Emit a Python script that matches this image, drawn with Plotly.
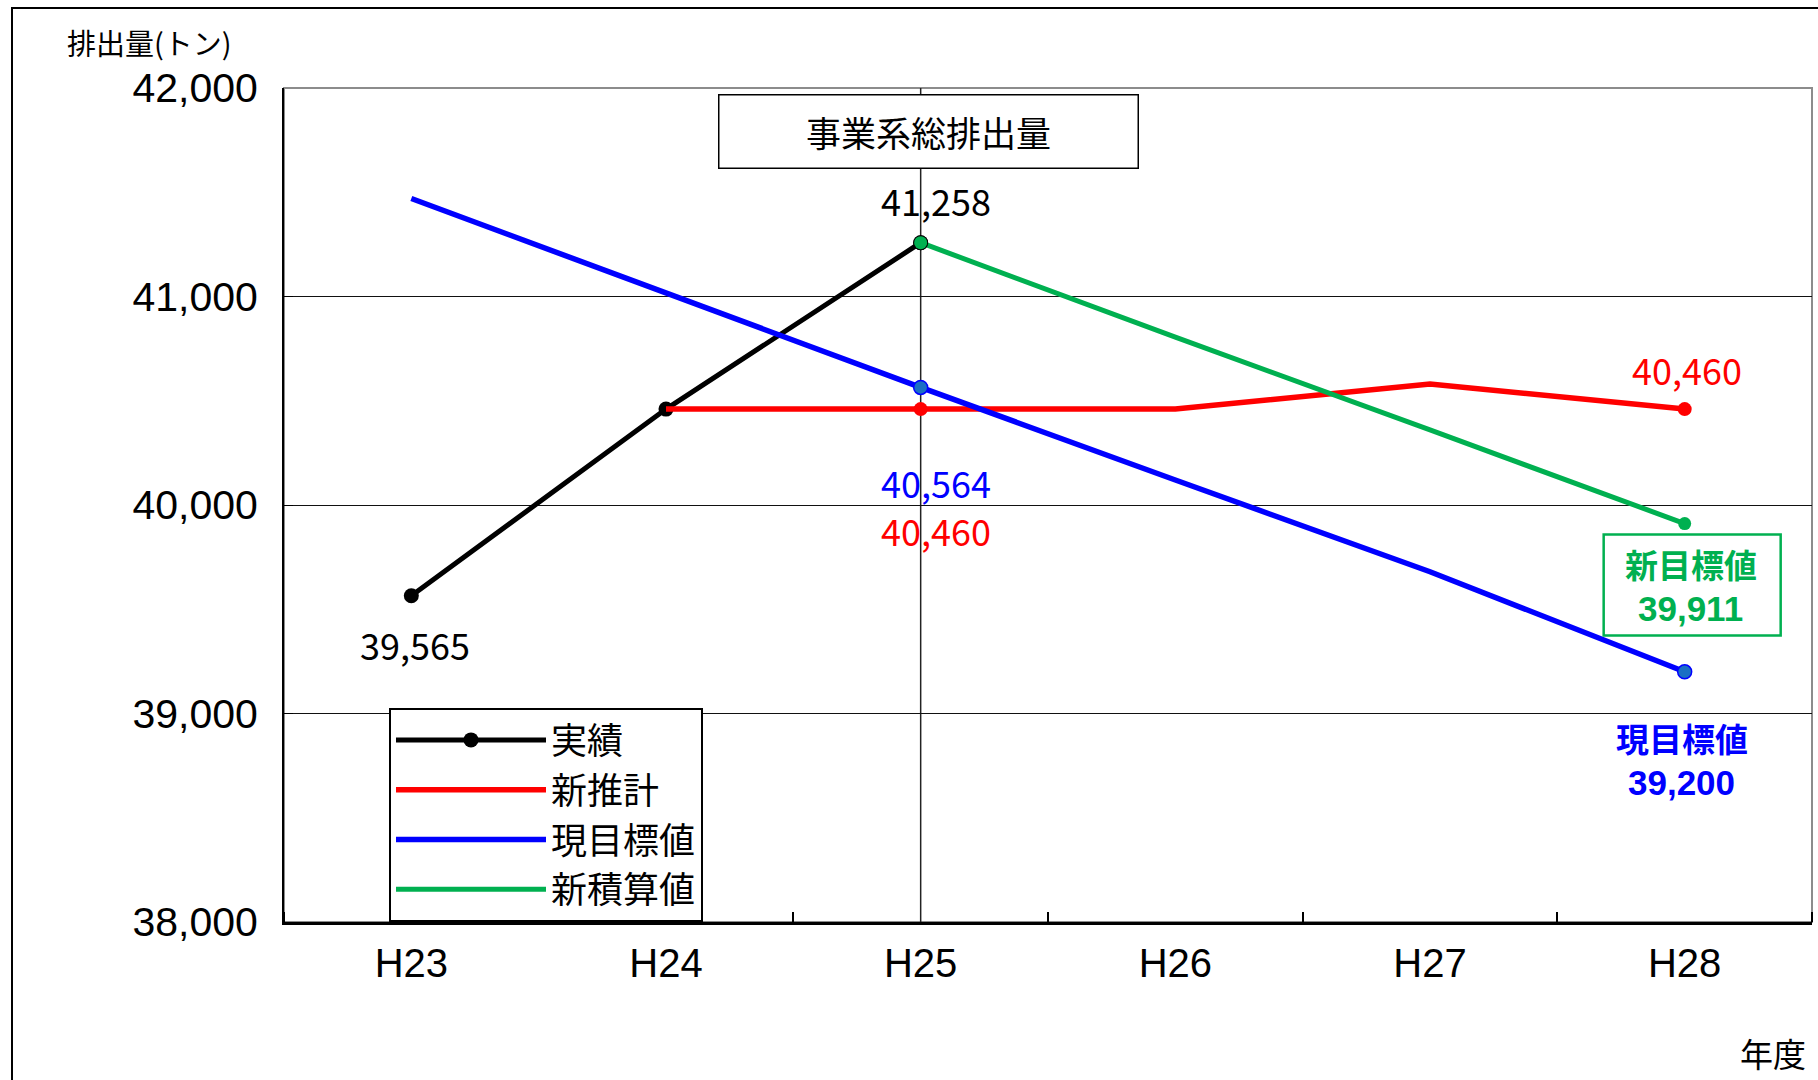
import plotly.graph_objects as go

# ---- data ----
years = ["H23", "H24", "H25", "H26", "H27", "H28"]
actual = [39565, 40460, 41258, None, None, None]             # 実績
new_forecast = [None, 40460, 40460, 40460, 40580, 40460]     # 新推計
current_target = [41470, 41015, 40564, 40120, 39680, 39200]  # 現目標値
new_estimate = [None, None, 41258, 40805, 40360, 39911]      # 新積算値

series_names = ["実績", "新推計", "現目標値", "新積算値"]
y_ticks = [38000, 39000, 40000, 41000, 42000]
y_tick_labels = ["38,000", "39,000", "40,000", "41,000", "42,000"]

title_text = "事業系総排出量"
y_title = "排出量(トン)"
x_title = "年度"
new_target_label = "新目標値"
current_target_label = "現目標値"

# ---- styling ----
JP = "Noto Sans CJK JP"
TICKF = "Liberation Sans"
C_BLACK = "#000000"
C_RED = "#ff0000"
C_BLUE = "#0000ff"
C_BLUE_M = "#1a6fc4"
C_GREEN = "#00b050"

W, H = 1818, 1080
L, R, T, B = 284, 6, 88, 158
PW, PH = W - L - R, H - T - B


def px_x(x):
    return (x - L) / PW


def px_y(y):
    return (H - B - y) / PH


idx = list(range(len(years)))


def pick(vals, keep):
    return [v if years[i] in keep else None for i, v in enumerate(vals)]


fig = go.Figure()

fig.add_trace(go.Scatter(x=idx, y=actual, name=series_names[0], mode="lines+markers",
                         line=dict(color=C_BLACK, width=5),
                         marker=dict(color=C_BLACK, size=15)))
fig.add_trace(go.Scatter(x=idx, y=new_forecast, name=series_names[1], mode="lines",
                         line=dict(color=C_RED, width=5.5)))
fig.add_trace(go.Scatter(x=idx, y=current_target, name=series_names[2], mode="lines",
                         line=dict(color=C_BLUE, width=5.5)))
fig.add_trace(go.Scatter(x=idx, y=new_estimate, name=series_names[3], mode="lines",
                         line=dict(color=C_GREEN, width=5)))

# point markers on selected years
fig.add_trace(go.Scatter(x=idx, y=pick(actual, ["H25"]), mode="markers", showlegend=False,
                         marker=dict(color=C_BLACK, size=15)))
fig.add_trace(go.Scatter(x=idx, y=pick(new_forecast, ["H25", "H28"]), mode="markers",
                         showlegend=False, marker=dict(color=C_RED, size=14)))
fig.add_trace(go.Scatter(x=idx, y=pick(current_target, ["H25", "H28"]), mode="markers",
                         showlegend=False,
                         marker=dict(color=C_BLUE_M, size=14, line=dict(color=C_BLUE, width=1.5))))
fig.add_trace(go.Scatter(x=idx, y=pick(new_estimate, ["H25", "H28"]), mode="markers",
                         showlegend=False, marker=dict(color=C_GREEN, size=13)))


# ---- data labels ----
def fmt(v):
    return f"{v:,}"


i23 = years.index("H23")
i25 = years.index("H25")
i28 = years.index("H28")
labels = [
    dict(x=i25, y=actual[i25], text=fmt(actual[i25]), color=C_BLACK, xs=15, ys=43),
    dict(x=i23, y=actual[i23], text=fmt(actual[i23]), color=C_BLACK, xs=4, ys=-48),
    dict(x=i25, y=current_target[i25], text=fmt(current_target[i25]), color=C_BLUE, xs=15, ys=-95),
    dict(x=i25, y=new_forecast[i25], text=fmt(new_forecast[i25]), color=C_RED, xs=15, ys=-121),
    dict(x=i28, y=new_forecast[i28], text=fmt(new_forecast[i28]), color=C_RED, xs=2, ys=40),
]
annotations = []
for lb in labels:
    annotations.append(dict(x=lb["x"], y=lb["y"], xref="x", yref="y", text=lb["text"],
                            showarrow=False, xshift=lb["xs"], yshift=lb["ys"],
                            xanchor="center", yanchor="middle",
                            font=dict(family=JP, size=36, color=lb["color"])))

# target call-outs (label line + value line)
callouts = [
    dict(y=new_estimate[i28], head=new_target_label, color=C_GREEN, xs=6, ys_head=-40, ys_val=-85),
    dict(y=current_target[i28], head=current_target_label, color=C_BLUE, xs=-3, ys_head=-66, ys_val=-111),
]
for c in callouts:
    annotations.append(dict(x=i28, y=c["y"], xref="x", yref="y", text=f"<b>{c['head']}</b>",
                            showarrow=False, xshift=c["xs"], yshift=c["ys_head"],
                            xanchor="center", yanchor="middle",
                            font=dict(family=JP, size=33, color=c["color"])))
    annotations.append(dict(x=i28, y=c["y"], xref="x", yref="y", text=f"<b>{fmt(c['y'])}</b>",
                            showarrow=False, xshift=c["xs"], yshift=c["ys_val"],
                            xanchor="center", yanchor="middle",
                            font=dict(family=TICKF, size=35, color=c["color"])))

# title box
annotations.append(dict(x=px_x(928), y=px_y(131), xref="paper", yref="paper", text=title_text,
                        showarrow=False, xanchor="center", yanchor="middle",
                        font=dict(family=JP, size=35, color="black"),
                        bordercolor="black", borderwidth=1.5, borderpad=0,
                        width=418, height=72, bgcolor="white"))
# axis titles
annotations.append(dict(x=px_x(149), y=px_y(42), xref="paper", yref="paper",
                        text=y_title, showarrow=False, xanchor="center", yanchor="middle",
                        font=dict(family=JP, size=29, color="black")))
annotations.append(dict(x=px_x(1773), y=px_y(1053), xref="paper", yref="paper",
                        text=x_title, showarrow=False, xanchor="center", yanchor="middle",
                        font=dict(family=JP, size=33, color="black")))

shapes = [
    # outer frame
    dict(type="rect", xref="paper", yref="paper",
         x0=px_x(12), x1=px_x(1840), y0=px_y(8), y1=px_y(1100),
         line=dict(color="black", width=2), layer="below"),
    # plot area border (gray)
    dict(type="rect", xref="paper", yref="paper", x0=0, x1=1, y0=0, y1=1,
         line=dict(color="#8c8c8c", width=2), layer="below"),
    # vertical reference line at H25
    dict(type="line", xref="x", yref="paper", x0=i25, x1=i25, y0=0, y1=1,
         line=dict(color="#222222", width=1.5), layer="below"),
    # green frame around the new-target call-out, anchored at the H28 point
    dict(type="rect", xref="x", yref="y", xsizemode="pixel", ysizemode="pixel",
         xanchor=i28, yanchor=new_estimate[i28],
         x0=-81, x1=96, y0=-11, y1=-112,
         line=dict(color=C_GREEN, width=2.5), fillcolor="white", layer="above"),
]

fig.update_layout(
    width=W, height=H,
    margin=dict(l=L, r=R, t=T, b=B),
    paper_bgcolor="white", plot_bgcolor="white",
    font=dict(family=TICKF, color="black"),
    showlegend=True,
    legend=dict(x=px_x(389), y=px_y(708), xanchor="left", yanchor="top",
                bgcolor="white", bordercolor="black", borderwidth=2,
                font=dict(family=JP, size=36, color="black"),
                itemwidth=150, tracegroupgap=0),
    annotations=annotations,
    shapes=shapes,
)

fig.update_xaxes(
    range=[-0.5, len(years) - 0.5],
    tickmode="array", tickvals=idx, ticktext=years,
    showgrid=False, zeroline=False,
    showline=True, linecolor="black", linewidth=2.5,
    ticks="", ticklen=0,
    tickfont=dict(family=TICKF, size=40, color="black"),
    ticklabelstandoff=4,
    minor=dict(tickmode="array", tickvals=[i - 0.5 for i in idx] + [len(years) - 0.5],
               ticks="inside", ticklen=10, tickcolor="black", tickwidth=1.5,
               showgrid=False),
)

fig.update_yaxes(
    range=[38000, 42000],
    tickmode="array", tickvals=y_ticks, ticktext=y_tick_labels,
    showgrid=True, gridcolor="#111111", gridwidth=1.2,
    zeroline=False,
    showline=True, linecolor="black", linewidth=2,
    ticks="inside", ticklen=9, tickcolor="black",
    tickfont=dict(family=TICKF, size=41, color="black"),
    ticklabelstandoff=16,
)

fig.write_html("out.html", config={"displayModeBar": False},
               post_script="document.body.style.margin='0px';")
